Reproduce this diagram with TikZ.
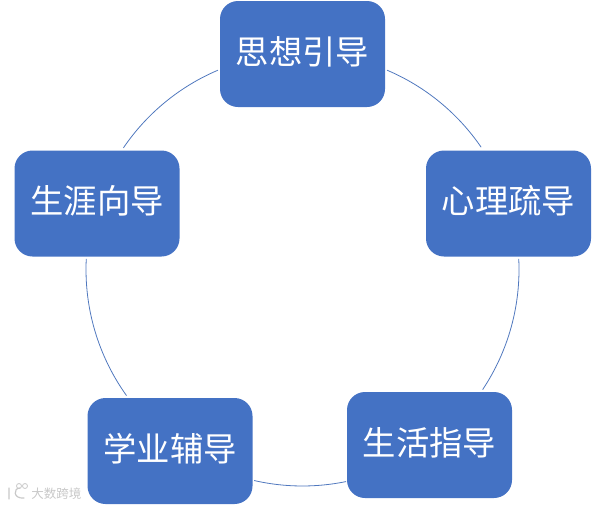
\documentclass[tikz,border=0pt]{standalone}
\usepackage{fontspec}
\usepackage{xcolor}
\usetikzlibrary{calc}
\setmainfont{Noto Sans CJK SC}
\definecolor{boxblue}{RGB}{68,114,196}
\definecolor{ringblue}{RGB}{80,120,190}
\definecolor{markgrey}{RGB}{200,200,200}
\tikzset{
  guidebox/.style={draw=none,fill=boxblue,rounded corners=13.5pt,minimum width=123.75pt,minimum height=79.5pt,text=white,font=\fontsize{25pt}{28pt}\selectfont,inner sep=0pt,text height=20pt,text depth=4.4pt},
  ringline/.style={draw=ringblue,line width=0.6pt},
  marktext/.style={text=markgrey,font=\fontsize{9.4pt}{10pt}\selectfont,inner sep=0pt}
}
\begin{document}
\begin{tikzpicture}[x=0.75pt,y=0.75pt,yscale=-1,xscale=1]
\useasboundingbox (0,0) rectangle (605,507);

%Ring centre
\coordinate (ringc) at (302.5,269.5);

%Arc ends
\coordinate (arcA) at ($(ringc)+(-67:216.5)$);
\coordinate (arcB) at ($(ringc)+(-2.8:216.5)$);
\coordinate (arcC) at ($(ringc)+(78.4:216.5)$);
\coordinate (arcD) at ($(ringc)+(144.4:216.5)$);
\coordinate (arcE) at ($(ringc)+(214.2:216.5)$);

%Curve Lines
\draw [ringline] (arcA) arc[start angle=-67,end angle=-34.4,radius=216.5];
\draw [ringline] (arcB) arc[start angle=-2.8,end angle=33.7,radius=216.5];
\draw [ringline] (arcC) arc[start angle=78.4,end angle=102.9,radius=216.5];
\draw [ringline] (arcD) arc[start angle=144.4,end angle=182.8,radius=216.5];
\draw [ringline] (arcE) arc[start angle=214.2,end angle=247,radius=216.5];

%Rounded boxes
\node [guidebox] (sixiang) at (302.5,54) {思想引导};
\node [guidebox] (xinli) at (508.5,203.5) {心理疏导};
\node [guidebox] (shenghuo) at (429.5,445) {生活指导};
\node [guidebox] (xueye) at (170,451) {学业辅导};
\node [guidebox] (shengya) at (97,203.5) {生涯向导};

%Watermark
\draw [markgrey,line width=0.9pt,line cap=round] (9,488) -- (9,499) (20,488) .. controls (13,488) and (13,499) .. (24,498);
\draw [markgrey,line width=0.6pt] (19,486) circle (2.5) (25,486) circle (2.5);
\node [marktext,anchor=west] (shuiyin) at (31,494) {大数跨境};
\end{tikzpicture}
\end{document}
